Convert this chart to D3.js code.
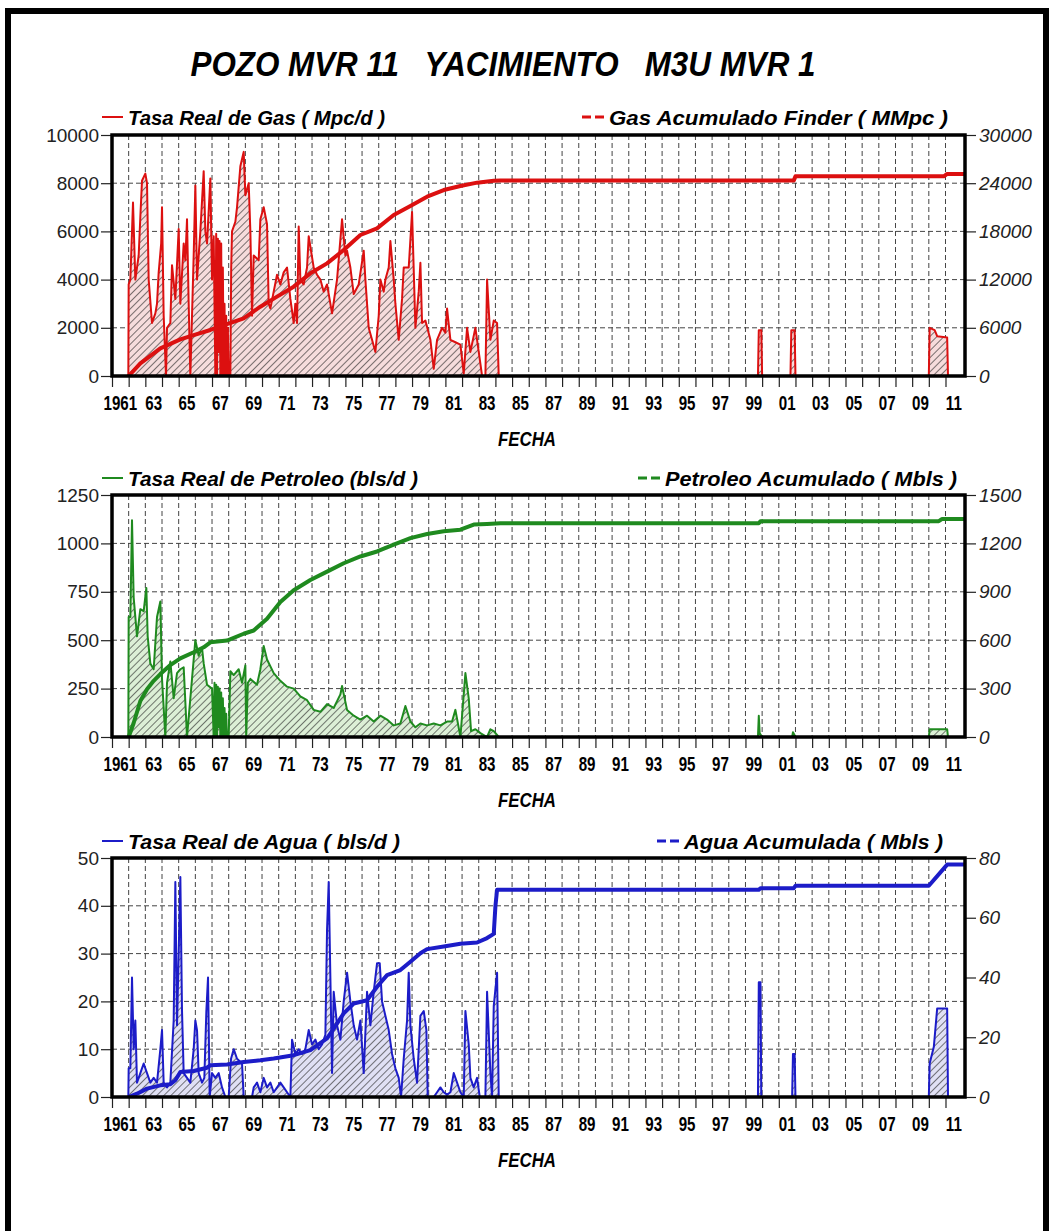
<!DOCTYPE html>
<html>
<head>
<meta charset="utf-8">
<script src="https://cdn.jsdelivr.net/npm/d3@7"></script>
<style>
  body { margin: 0; background: #fff; }
  svg { display: block; }
</style>
</head>
<body>
<script>
// ---- data: [decimal year, value] ----
const gasRate = [
  [1960.98,0],[1961.0,3800],[1961.1,4000],[1961.26,7200],[1961.4,4000],[1961.6,5000],[1961.7,6600],[1961.8,8100],
  [1962.0,8400],[1962.1,8000],[1962.2,4000],[1962.4,2200],[1962.6,2600],[1962.7,3000],[1962.8,4300],[1962.95,5500],
  [1963.0,7000],[1963.1,2500],[1963.24,0],[1963.3,2000],[1963.5,2200],[1963.6,4600],[1963.8,3200],[1964.0,6100],
  [1964.1,3000],[1964.3,5500],[1964.4,4800],[1964.5,6500],[1964.6,3000],[1964.7,0],[1964.9,5000],[1965.0,7900],
  [1965.1,4000],[1965.3,6000],[1965.5,8500],[1965.6,6000],[1965.7,5500],[1965.9,8200],[1966.0,4000],[1966.1,5800],
  [1966.2,0],[1966.25,5900],[1966.3,0],[1966.35,5700],[1966.4,1000],[1966.45,5600],[1966.5,0],[1966.55,5500],
  [1966.6,0],[1966.65,4500],[1966.7,0],[1966.75,3000],[1966.8,0],[1966.85,2500],[1966.9,0],[1966.95,2000],
  [1967.0,0],[1967.1,0],[1967.15,4500],[1967.2,6000],[1967.4,6400],[1967.5,7000],[1967.7,8700],[1967.9,9300],
  [1968.0,7500],[1968.2,8000],[1968.3,6000],[1968.4,2500],[1968.5,5000],[1968.8,4800],[1968.9,6500],[1969.1,7000],
  [1969.3,6300],[1969.4,3000],[1969.5,2800],[1969.7,3500],[1969.9,4200],[1970.1,3800],[1970.3,4300],[1970.5,4500],
  [1970.7,3200],[1970.9,2200],[1971.0,3000],[1971.1,2200],[1971.2,6200],[1971.3,4000],[1971.5,3800],[1971.7,4500],
  [1971.8,5800],[1972.1,4500],[1972.3,4200],[1972.5,4000],[1972.7,3500],[1972.9,3800],[1973.2,2600],[1973.5,4000],
  [1973.8,6500],[1974.0,5000],[1974.1,5200],[1974.3,4500],[1974.5,3400],[1974.8,3800],[1975.1,5200],[1975.2,4000],
  [1975.4,2000],[1975.6,1500],[1975.8,1000],[1976.0,2500],[1976.1,4000],[1976.3,3500],[1976.4,4000],[1976.6,4500],
  [1976.7,5600],[1976.9,4000],[1977.0,3000],[1977.2,1500],[1977.4,3200],[1977.5,4500],[1977.8,4500],[1978.0,6800],
  [1978.2,2000],[1978.4,3500],[1978.5,4700],[1978.6,2200],[1978.8,2300],[1979.1,1500],[1979.3,300],[1979.5,1500],
  [1979.8,2000],[1980.0,1800],[1980.1,2800],[1980.3,1500],[1980.6,1400],[1980.9,1300],[1981.1,100],[1981.3,2000],
  [1981.5,1000],[1981.8,2000],[1982.0,1000],[1982.2,0],[1982.4,0],[1982.5,4000],[1982.7,1500],[1982.9,2300],
  [1983.1,2200],[1983.2,0],
  [1998.75,0],[1998.8,1900],[1998.95,1900],[1999.0,0],
  [2000.7,0],[2000.75,1900],[2000.95,1900],[2001.0,0],
  [2009.0,0],[2009.05,2000],[2009.35,1900],[2009.5,1650],[2010.1,1600],[2010.15,0]
];
const gasCum = [
  [1961.0,0],[1961.7,1580],[1962.9,3440],[1964.1,4560],[1964.9,5100],[1965.9,5730],[1966.9,6470],[1967.9,7180],
  [1968.9,8630],[1969.9,9880],[1970.9,11120],[1971.9,12780],[1972.9,14020],[1973.9,15680],[1974.9,17550],
  [1975.9,18380],[1976.9,20040],[1977.9,21160],[1978.9,22320],[1979.9,23150],[1980.9,23650],[1981.9,24070],
  [1982.9,24300],[1983.3,24350],[2000.9,24350],[2001.0,24850],[2009.9,24850],[2010.1,25150],[2011.17,25150]
];

const oilRate = [
  [1960.98,0],[1961.0,620],[1961.1,620],[1961.2,1120],[1961.3,720],[1961.5,520],[1961.7,660],[1961.9,650],
  [1962.06,770],[1962.14,520],[1962.3,380],[1962.5,350],[1962.7,620],[1962.9,700],[1963.0,300],[1963.2,0],
  [1963.3,280],[1963.5,390],[1963.7,200],[1963.9,330],[1964.1,350],[1964.3,360],[1964.5,0],[1964.8,300],
  [1965.0,500],[1965.2,420],[1965.4,460],[1965.5,380],[1965.7,270],[1966.0,250],[1966.1,0],[1966.15,280],
  [1966.2,0],[1966.25,270],[1966.3,0],[1966.35,260],[1966.4,50],[1966.45,250],[1966.5,0],[1966.55,230],
  [1966.6,0],[1966.65,200],[1966.7,0],[1966.75,150],[1966.8,0],[1966.85,120],[1966.9,0],[1967.0,0],
  [1967.1,340],[1967.3,320],[1967.6,350],[1967.8,280],[1968.0,370],[1968.05,0],[1968.15,280],[1968.3,300],
  [1968.7,270],[1968.9,350],[1969.1,470],[1969.3,400],[1969.7,330],[1970.1,290],[1970.5,260],[1970.9,250],
  [1971.3,210],[1971.7,190],[1972.1,140],[1972.5,130],[1972.9,170],[1973.3,150],[1973.7,220],[1973.8,264],
  [1974.1,140],[1974.5,110],[1974.9,90],[1975.3,110],[1975.7,80],[1976.1,110],[1976.5,90],[1976.9,60],
  [1977.3,70],[1977.6,160],[1977.9,80],[1978.2,50],[1978.5,70],[1978.9,60],[1979.3,70],[1979.7,60],
  [1980.1,80],[1980.4,80],[1980.6,140],[1980.9,0],[1981.2,330],[1981.4,200],[1981.54,30],[1981.8,40],
  [1982.1,20],[1982.5,0],[1982.7,40],[1982.9,30],[1983.2,0],
  [1998.75,0],[1998.8,110],[1998.85,20],[1999.0,0],
  [2000.8,0],[2000.85,25],[2001.0,0],
  [2009.0,0],[2009.05,40],[2010.1,40],[2010.15,0]
];
const oilCum = [
  [1961.0,0],[1961.3,87],[1961.7,223],[1962.1,296],[1962.5,348],[1962.9,390],[1963.5,446],[1964.1,487],
  [1964.9,525],[1965.5,556],[1965.9,587],[1966.9,598],[1967.9,640],[1968.5,660],[1969.3,733],[1970.1,837],
  [1970.9,910],[1971.9,973],[1972.9,1025],[1973.9,1077],[1974.9,1119],[1975.9,1150],[1976.9,1192],
  [1977.9,1233],[1978.9,1258],[1979.9,1275],[1980.9,1285],[1981.7,1317],[1982.5,1321],[1983.3,1325],
  [1998.8,1325],[1998.9,1338],[2009.6,1338],[2009.8,1352],[2011.17,1352]
];

const waterRate = [
  [1960.98,0],[1961.0,6],[1961.1,6],[1961.2,25],[1961.3,10],[1961.4,16],[1961.5,3],[1961.7,5],[1961.9,7],
  [1962.1,5],[1962.3,3],[1962.5,4],[1962.7,3],[1962.9,10],[1963.0,14],[1963.1,3],[1963.3,2],[1963.5,3],
  [1963.7,16],[1963.8,45],[1963.9,15],[1964.0,30],[1964.1,46],[1964.2,18],[1964.3,5],[1964.5,4],[1964.7,3],
  [1964.9,10],[1965.0,16],[1965.1,14],[1965.2,5],[1965.4,3],[1965.54,4],[1965.66,18],[1965.76,25],[1965.86,0],
  [1966.0,5],[1966.2,4],[1966.4,5],[1966.6,2],[1966.8,0],[1967.0,0],[1967.14,8],[1967.3,10],[1967.5,8],
  [1967.8,7],[1967.9,0],[1968.4,0],[1968.5,2],[1968.7,3],[1968.9,1],[1969.1,4],[1969.3,2],[1969.5,3],
  [1969.7,1],[1970.1,3],[1970.3,2],[1970.5,1],[1970.7,0],[1970.8,12],[1971.0,9],[1971.2,10],[1971.4,9],
  [1971.6,10],[1971.8,14],[1972.0,11],[1972.2,12],[1972.4,10],[1972.6,11],[1972.8,13],[1972.9,35],[1973.0,45],
  [1973.1,25],[1973.2,5],[1973.3,22],[1973.5,15],[1973.7,12],[1973.9,20],[1974.1,26],[1974.3,20],[1974.5,15],
  [1974.7,12],[1974.9,16],[1975.1,5],[1975.3,22],[1975.5,15],[1975.7,22],[1975.9,28],[1976.06,28],[1976.2,20],
  [1976.4,17],[1976.6,14],[1976.8,9],[1977.0,6],[1977.2,4],[1977.34,0],[1977.5,8],[1977.7,16],[1977.8,26],
  [1977.9,15],[1978.1,8],[1978.3,3],[1978.5,17],[1978.7,18],[1978.86,14],[1978.94,0],[1979.3,0],[1979.5,1],
  [1979.7,2],[1979.9,1],[1980.1,0.5],[1980.3,1],[1980.5,5],[1980.7,3],[1980.9,1],[1981.1,0],[1981.2,18],
  [1981.4,11],[1981.5,4],[1981.7,2],[1981.9,4],[1982.06,0],[1982.4,0],[1982.5,22],[1982.7,5],[1982.8,0],
  [1982.9,19],[1983.1,26],[1983.2,0],
  [1998.75,0],[1998.8,24],[1998.9,24],[1998.95,0],
  [2000.8,0],[2000.85,9],[2000.95,9],[2001.0,0],
  [2009.0,0],[2009.05,7],[2009.3,10.5],[2009.5,18.5],[2010.1,18.5],[2010.15,0]
];
const waterCum = [
  [1961.0,0],[1961.5,1.1],[1962.1,2.8],[1962.9,3.9],[1963.5,4.3],[1963.8,5.6],[1964.1,8.4],[1964.9,8.7],
  [1965.7,9.8],[1965.9,10.6],[1966.9,10.9],[1967.9,11.7],[1968.9,12.3],[1969.7,12.9],[1970.9,14.0],
  [1971.9,15.7],[1972.9,19.6],[1973.3,22.9],[1973.9,28.0],[1974.5,31.3],[1975.3,32.4],[1975.9,36.9],
  [1976.5,40.8],[1977.3,42.5],[1977.9,45.3],[1978.5,48.1],[1978.9,49.5],[1979.9,50.4],[1980.9,51.3],
  [1981.9,51.7],[1982.5,53.2],[1982.9,54.6],[1983.0,63.8],[1983.1,69.4],[1998.8,69.4],[1998.9,69.9],
  [2000.9,69.9],[2001.0,70.7],[2009.0,70.7],[2010.1,77.8],[2011.17,77.8]
];

// axis ticks
const gasLeftTicks = [0, 2000, 4000, 6000, 8000, 10000];
const gasRightTicks = [0, 6000, 12000, 18000, 24000, 30000];
const oilLeftTicks = [0, 250, 500, 750, 1000, 1250];
const oilRightTicks = [0, 300, 600, 900, 1200, 1500];
const waterLeftTicks = [0, 10, 20, 30, 40, 50];
const waterRightTicks = [0, 20, 40, 60, 80];
const yearLabels = [1961, 1963, 1965, 1967, 1969, 1971, 1973, 1975, 1977, 1979, 1981, 1983, 1985, 1987,
  1989, 1991, 1993, 1995, 1997, 1999, 2001, 2003, 2005, 2007, 2009, 2011];
const gridYears = d3.range(1961, 2011);

const titleText = 'POZO MVR 11   YACIMIENTO   M3U MVR 1';

// ---- layout ----
const W = 1054, H = 1231;
const PL = 112, PR = 965;

const svg = d3.select('body').append('svg').attr('width', W).attr('height', H);
const defs = svg.append('defs');

const x = d3.scaleLinear().domain([1960, 2011.17]).range([PL, PR]);

// diagonal "///" hatch over a light tint
function hatch(id, tint) {
  const p = defs.append('pattern').attr('id', id)
    .attr('patternUnits', 'userSpaceOnUse')
    .attr('width', 5).attr('height', 5)
    .attr('patternTransform', 'rotate(45)');
  p.append('rect').attr('width', 5).attr('height', 5).attr('fill', tint);
  p.append('line').attr('x1', 0).attr('y1', 0).attr('x2', 0).attr('y2', 5)
    .attr('stroke', '#222').attr('stroke-width', 1.2);
}

// outer border
svg.append('rect').attr('x', 8).attr('y', 11).attr('width', 1038).attr('height', 1300)
  .attr('fill', 'none').attr('stroke', '#000').attr('stroke-width', 6);

// title
svg.append('text')
  .attr('x', 503).attr('y', 76)
  .attr('text-anchor', 'middle')
  .attr('textLength', 625).attr('lengthAdjust', 'spacingAndGlyphs')
  .style('white-space', 'pre')
  .style('font', 'italic bold 35px "Liberation Sans", Arial, sans-serif')
  .text(titleText);

const panels = [
  { top: 135, bottom: 376, rate: gasRate, cum: gasCum, lt: gasLeftTicks, rt: gasRightTicks,
    color: '#dc1010', tint: '#f6dcdc', id: 'hg',
    legL: 'Tasa Real de Gas ( Mpc/d )', legLw: 257,
    legR: 'Gas Acumulado Finder ( MMpc )', legRx: 609, legRw: 339, legY: 125 },
  { top: 495, bottom: 737, rate: oilRate, cum: oilCum, lt: oilLeftTicks, rt: oilRightTicks,
    color: '#1f8a1f', tint: '#dcefd6', id: 'ho',
    legL: 'Tasa Real de Petroleo (bls/d )', legLw: 290,
    legR: 'Petroleo Acumulado ( Mbls )', legRx: 665, legRw: 292, legY: 486 },
  { top: 858, bottom: 1097, rate: waterRate, cum: waterCum, lt: waterLeftTicks, rt: waterRightTicks,
    color: '#1c1cc8', tint: '#e0e0f4', id: 'hw',
    legL: 'Tasa Real de Agua ( bls/d )', legLw: 272,
    legR: 'Agua Acumulada ( Mbls )', legRx: 684, legRw: 259, legY: 849 }
];

panels.forEach((p, i) => {
  hatch(p.id, p.tint);
  const yL = d3.scaleLinear().domain([0, d3.max(p.lt)]).range([p.bottom, p.top]);
  const yR = d3.scaleLinear().domain([0, d3.max(p.rt)]).range([p.bottom, p.top]);
  const g = svg.append('g');

  defs.append('clipPath').attr('id', 'clip' + i)
    .append('rect').attr('x', PL).attr('y', p.top).attr('width', PR - PL).attr('height', p.bottom - p.top);

  // grid
  const grid = g.append('g').attr('stroke', '#444').attr('stroke-width', 1).attr('stroke-dasharray', '5,3');
  grid.selectAll('line.v').data(gridYears).enter().append('line')
    .attr('x1', d => x(d)).attr('x2', d => x(d))
    .attr('y1', p.top).attr('y2', p.bottom);
  grid.selectAll('line.h').data(p.lt.slice(1, -1)).enter().append('line')
    .attr('x1', PL).attr('x2', PR)
    .attr('y1', d => yL(d)).attr('y2', d => yL(d));

  // rate: hatched area + line
  const plot = g.append('g').attr('clip-path', `url(#clip${i})`);
  const area = d3.area().x(d => x(d[0])).y0(p.bottom).y1(d => yL(d[1]));
  const line = d3.line().x(d => x(d[0])).y(d => yL(d[1]));
  plot.append('path').datum(p.rate).attr('d', area).attr('fill', `url(#${p.id})`);
  plot.append('path').datum(p.rate).attr('d', line)
    .attr('fill', 'none').attr('stroke', p.color).attr('stroke-width', 2).attr('stroke-linejoin', 'round');

  // cumulative
  const cumLine = d3.line().x(d => x(d[0])).y(d => yR(d[1]));
  plot.append('path').datum(p.cum).attr('d', cumLine)
    .attr('fill', 'none').attr('stroke', p.color).attr('stroke-width', 4).attr('stroke-linejoin', 'round');

  // left axis
  const ax = g.append('g').attr('transform', `translate(${PL},0)`)
    .call(d3.axisLeft(yL).tickValues(p.lt).tickSize(11).tickPadding(2).tickFormat(d3.format('d')));
  ax.select('.domain').remove();
  ax.selectAll('line').attr('stroke', '#222').attr('stroke-width', 1.2);
  ax.selectAll('text').style('font', '19px "Liberation Sans", Arial, sans-serif').attr('fill', '#222');

  // right axis
  const ar = g.append('g').attr('transform', `translate(${PR},0)`)
    .call(d3.axisRight(yR).tickValues(p.rt).tickSize(11).tickPadding(3).tickFormat(d3.format('d')));
  ar.select('.domain').remove();
  ar.selectAll('line').attr('stroke', '#222').attr('stroke-width', 1.2);
  ar.selectAll('text').style('font', 'italic 19px "Liberation Sans", Arial, sans-serif').attr('fill', '#222');

  // bottom axis ticks (every year)
  const ab = g.append('g').attr('transform', `translate(0,${p.bottom})`)
    .call(d3.axisBottom(x).tickValues(gridYears.concat([1960])).tickSize(11).tickFormat(''));
  ab.select('.domain').remove();
  ab.selectAll('line').attr('stroke', '#222').attr('stroke-width', 1.2);

  // year labels, centred half a year before the tick
  g.append('g').selectAll('text').data(yearLabels).enter().append('text')
    .attr('transform', d => `translate(${x(d - 0.5)},${p.bottom + 34}) scale(0.72,1)`)
    .attr('text-anchor', 'middle')
    .style('font', 'bold 21px "Liberation Sans", Arial, sans-serif')
    .text(d => d === 1961 ? '1961' : String(d).slice(2));

  // FECHA
  g.append('text')
    .attr('x', 527).attr('y', p.bottom + 70)
    .attr('text-anchor', 'middle')
    .attr('textLength', 58).attr('lengthAdjust', 'spacingAndGlyphs')
    .style('font', 'italic bold 21px "Liberation Sans", Arial, sans-serif')
    .text('FECHA');

  // frame
  g.append('rect').attr('x', PL).attr('y', p.top).attr('width', PR - PL).attr('height', p.bottom - p.top)
    .attr('fill', 'none').attr('stroke', '#000').attr('stroke-width', 3.5);

  // legends
  const lg = g.append('g');
  lg.append('line').attr('x1', 102).attr('x2', 123).attr('y1', p.legY - 8).attr('y2', p.legY - 8)
    .attr('stroke', p.color).attr('stroke-width', 2);
  lg.append('text').attr('x', 128).attr('y', p.legY)
    .attr('textLength', p.legLw).attr('lengthAdjust', 'spacingAndGlyphs')
    .style('white-space', 'pre')
    .style('font', 'italic bold 20px "Liberation Sans", Arial, sans-serif')
    .text(p.legL);
  lg.append('line').attr('x1', p.legRx - 27).attr('x2', p.legRx - 3).attr('y1', p.legY - 8).attr('y2', p.legY - 8)
    .attr('stroke', p.color).attr('stroke-width', 3).attr('stroke-dasharray', '9,4');
  lg.append('text').attr('x', p.legRx).attr('y', p.legY)
    .attr('textLength', p.legRw).attr('lengthAdjust', 'spacingAndGlyphs')
    .style('white-space', 'pre')
    .style('font', 'italic bold 20px "Liberation Sans", Arial, sans-serif')
    .text(p.legR);
});
</script>
</body>
</html>
